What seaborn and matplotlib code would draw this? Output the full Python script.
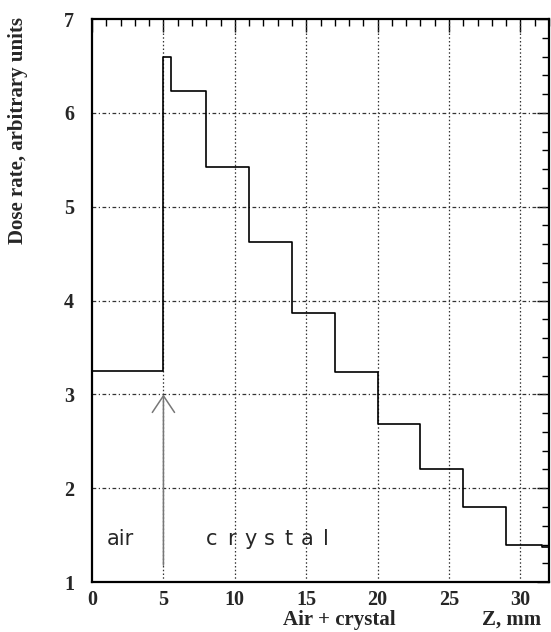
import numpy as np
import pandas as pd
import matplotlib
matplotlib.use('Agg')
import matplotlib.pyplot as plt
import seaborn as sns
from matplotlib.ticker import MultipleLocator

# step edges (mm) and dose rate in each bin
z_edges = [0, 5, 5.5, 8, 11, 14, 17, 20, 23, 26, 29, 31.5, 32]
dose = [3.25, 6.6, 6.23, 5.42, 4.62, 3.87, 3.24, 2.68, 2.20, 1.80, 1.39, 1.37]

x_ticks = [0, 5, 10, 15, 20, 25, 30]
y_ticks = [1, 2, 3, 4, 5, 6, 7]

sns.set_style('white')
plt.rcParams['font.family'] = ['Liberation Serif', 'DejaVu Serif']

df = pd.DataFrame({'z': z_edges, 'dose': dose + [dose[-1]]})

fig = plt.figure(figsize=(5.51, 6.32), dpi=100)
ax = fig.add_axes([0.167, 0.079, 0.8294, 0.8909])

sns.lineplot(data=df, x='z', y='dose', drawstyle='steps-post', color='black',
             linewidth=1.2, ax=ax, zorder=3)

ax.set_xlim(0, 32)
ax.set_ylim(1, 7)
ax.set_xticks(x_ticks)
ax.set_yticks(y_ticks)
ax.xaxis.set_minor_locator(MultipleLocator(1))
ax.yaxis.set_minor_locator(MultipleLocator(0.2))
ax.tick_params(which='both', direction='in', top=True, right=True, color='black', width=1)
ax.tick_params(which='major', length=9)
ax.tick_params(which='minor', length=5)
ax.tick_params(axis='x', which='major', pad=6, labelsize=14.5)
ax.tick_params(axis='y', which='major', pad=13, labelsize=14.5)
for lab in ax.get_xticklabels() + ax.get_yticklabels():
    lab.set_fontweight('bold')

for s in ax.spines.values():
    s.set_linewidth(1.6)
    s.set_color('black')

ax.grid(False)
for xv in x_ticks[1:]:
    ax.axvline(xv, color='#333333', lw=0.9, ls=(0, (1.2, 1.8)), zorder=1)
for yv in y_ticks[1:-1]:
    ax.axhline(yv, color='#333333', lw=0.9, ls=(0, (3, 2, 1, 2)), zorder=1)

ax.set_xlabel('')
ax.set_ylabel('')

ax.annotate('', xy=(5, 3.0), xytext=(5, 1.18),
            arrowprops=dict(arrowstyle='->,head_length=1.2,head_width=0.8',
                            color='#777777', lw=1.1, shrinkA=0, shrinkB=0,
                            mutation_scale=10), zorder=2)

ax.text(1.0, 1.39, 'air', fontsize=15, family='DejaVu Sans', va='baseline', ha='left')
for i, ch in enumerate('crystal'):
    ax.text(8.41 + i * 1.33, 1.39, ch, fontsize=15, family='DejaVu Sans',
            va='baseline', ha='center')

fig.text(0.033, 0.793, 'Dose rate, arbitrary units', rotation=90, fontsize=15,
         fontweight='bold', ha='center', va='center')
fig.text(0.615, 0.019, 'Air + crystal', fontsize=15, fontweight='bold',
         ha='center', va='center')
fig.text(0.982, 0.019, 'Z, mm', fontsize=15, fontweight='bold',
         ha='right', va='center')

fig.savefig('out.png', dpi=100)
